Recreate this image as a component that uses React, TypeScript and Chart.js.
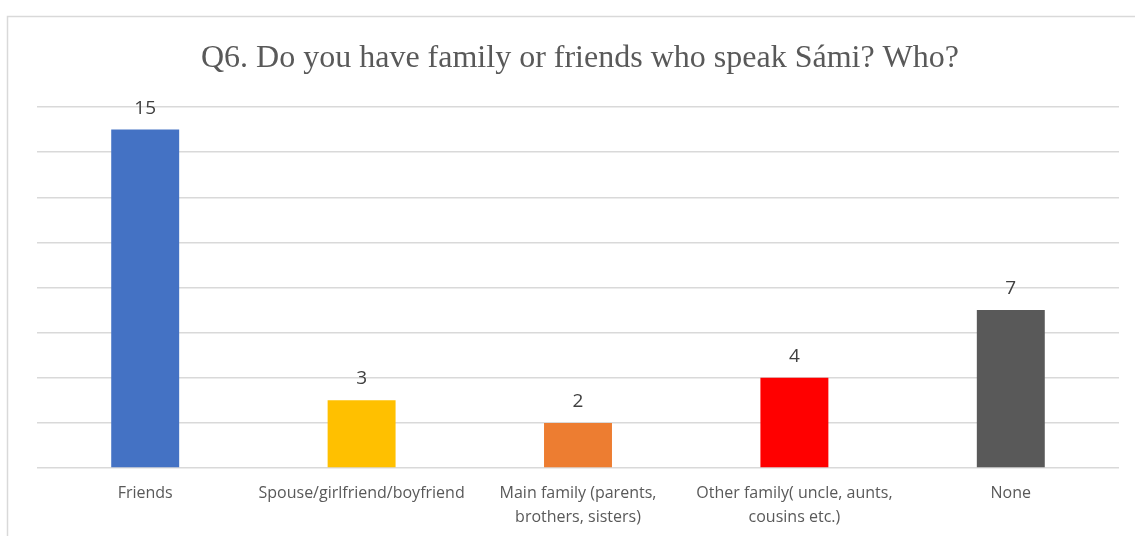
import React, { useEffect, useRef } from "react";
import { Chart, registerables } from "chart.js";

Chart.register(...registerables);

const categories: (string | string[])[] = [
  "Friends",
  "Spouse/girlfriend/boyfriend",
  ["Main family (parents,", "brothers, sisters)"],
  ["Other family( uncle, aunts,", "cousins etc.)"],
  "None",
];
const values = [15, 3, 2, 4, 7];
const barColors = ["#4472C4", "#FFC000", "#ED7D31", "#FF0000", "#595959"];
const titleText = "Q6. Do you have family or friends who speak Sámi? Who?";

const frameAndTitle = {
  id: "frameAndTitle",
  beforeDraw(chart: any) {
    const { ctx } = chart;
    ctx.save();
    ctx.strokeStyle = "#D9D9D9";
    ctx.lineWidth = 1.5;
    ctx.beginPath();
    ctx.moveTo(7.5, 600);
    ctx.lineTo(7.5, 16.5);
    ctx.lineTo(1200, 16.5);
    ctx.stroke();
    ctx.restore();
  },
  afterDraw(chart: any) {
    const { ctx } = chart;
    ctx.save();
    ctx.fillStyle = "#595959";
    ctx.font = "32px 'Liberation Serif'";
    ctx.textAlign = "center";
    ctx.textBaseline = "alphabetic";
    ctx.fillText(titleText, 580, 67);
    ctx.restore();
  },
};

const valueLabels = {
  id: "valueLabels",
  afterDatasetsDraw(chart: any) {
    const { ctx } = chart;
    const meta = chart.getDatasetMeta(0);
    ctx.save();
    ctx.fillStyle = "#404040";
    ctx.font = "19px 'Open Sans'";
    ctx.textAlign = "center";
    ctx.textBaseline = "alphabetic";
    meta.data.forEach((bar: any, i: number) => {
      ctx.fillText(String(values[i]), bar.x, bar.y - 16);
    });
    ctx.restore();
  },
};

export default function App() {
  const ref = useRef<HTMLCanvasElement>(null);
  useEffect(() => {
    if (!ref.current) return;
    const chart = new Chart(ref.current, {
      type: "bar",
      data: {
        labels: categories,
        datasets: [
          {
            data: values,
            backgroundColor: barColors,
            barPercentage: 0.314,
            categoryPercentage: 1,
          },
        ],
      },
      options: {
        animation: false,
        responsive: false,
        maintainAspectRatio: false,
        layout: { padding: { left: 37, right: 16, top: 107, bottom: 0 } },
        plugins: {
          legend: { display: false },
          title: { display: false },
          tooltip: { enabled: false },
        },
        scales: {
          x: {
            grid: { display: false },
            border: { display: false },
            ticks: {
              color: "#595959",
              font: { family: "'Open Sans'", size: 16, lineHeight: 1.5 },
              padding: 5,
              maxRotation: 0,
              autoSkip: false,
            },
            afterFit(scale: any) {
              scale.height = 68;
            },
          },
          y: {
            min: 0,
            max: 16,
            ticks: { display: false, stepSize: 2 },
            border: { display: false },
            grid: { color: "#D9D9D9", lineWidth: 1.5, drawTicks: false },
            afterFit(scale: any) {
              scale.width = 0;
            },
          },
        },
      },
      plugins: [frameAndTitle, valueLabels],
    });
    return () => chart.destroy();
  }, []);
  return (
    <div style={{ position: "absolute", left: 0, top: 0, width: 1135, height: 536, background: "#fff" }}>
      <canvas ref={ref} width={1135} height={536} style={{ display: "block" }} />
    </div>
  );
}
